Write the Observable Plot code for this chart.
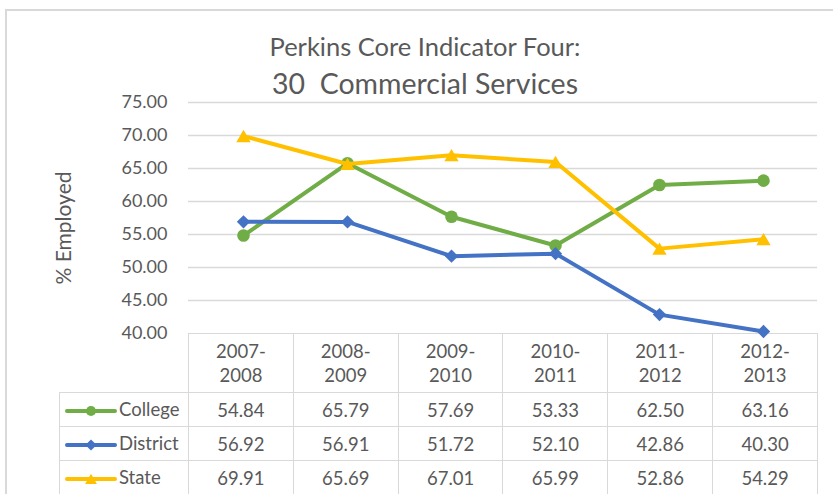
<!DOCTYPE html>
<html><head><meta charset="utf-8">
<script src="https://cdn.jsdelivr.net/npm/d3@7"></script>
<script src="https://cdn.jsdelivr.net/npm/@observablehq/plot@0.6"></script>
<style>
html,body{margin:0;padding:0;background:#fff;}
#wrap{position:relative;width:833px;height:494px;overflow:hidden;font-family:Lato,sans-serif;color:#595959;background:#fff;}
#frame{position:absolute;left:5px;top:9px;width:900px;height:600px;border:2px solid #d9d9d9;box-sizing:border-box;}
.title{position:absolute;left:0;width:850px;text-align:center;white-space:pre;line-height:1;}
#t1{font-size:25.5px;top:34px;}
#t2{font-size:28.5px;top:69px;}
#ylab{position:absolute;left:-37px;top:216px;width:200px;text-align:center;font-size:21px;line-height:24px;transform:rotate(-90deg);transform-origin:100px 12px;}
#tbl{position:absolute;left:59px;top:333px;border-collapse:collapse;table-layout:fixed;font-size:18.5px;}
#tbl td{border:1.5px solid #d9d9d9;padding:0;text-align:center;vertical-align:middle;box-sizing:border-box;}
#tbl td.blank{border:none;}
#tbl tr.head td{height:59px;line-height:24px;}
#tbl tr.body td{height:34px;}
#tbl td.leg{text-align:left;white-space:nowrap;}
#tbl td.leg svg{vertical-align:middle;margin-left:5px;margin-right:2px;}
#plot{position:absolute;left:0;top:0;pointer-events:none;}
</style>
</head><body>
<div id="wrap">
  <div id="frame"></div>
  <div class="title" id="t1">Perkins Core Indicator Four:</div>
  <div class="title" id="t2">30  Commercial Services</div>
  <div id="ylab">% Employed</div>
  <table id="tbl"></table>
  <div id="plot"></div>
</div>
<script>
const years = ["2007-2008","2008-2009","2009-2010","2010-2011","2011-2012","2012-2013"];
const series = ["College","District","State"];
const college = [54.84,65.79,57.69,53.33,62.50,63.16];
const district = [56.92,56.91,51.72,52.10,42.86,40.30];
const state = [69.91,65.69,67.01,65.99,52.86,54.29];
const yTicks = [40,45,50,55,60,65,70,75];

const colors = ["#70AD47","#4472C4","#FFC000"];
const symbols = ["circle","diamond2","triangle"];
const radii = [6.3,6.0,5.3];
const dys = [0,0,2];
const values = [college, district, state];

const rows = series.flatMap((s,i) => years.map((y,j) => ({series:s, year:y, value:values[i][j]})));

const plot = Plot.plot({
  width:833, height:345,
  marginLeft:188, marginRight:16, marginTop:102, marginBottom:12,
  x:{type:"point", domain:years, padding:0.5, axis:null},
  y:{domain:[40,75], axis:null},
  style:{fontFamily:"Lato, sans-serif", fontSize:"18px", color:"#595959", background:"transparent", overflow:"visible"},
  marks:[
    Plot.ruleY(yTicks.filter(v => v > 40), {stroke:"#d9d9d9", strokeWidth:1.5, strokeOpacity:1}),
    Plot.axisY({ticks:yTicks, tickSize:0, tickPadding:21, tickFormat:d3.format(".2f"), label:null, fontSize:18}),
    ...series.flatMap((s,i) => {
      const d = rows.filter(r => r.series === s);
      return [
        Plot.line(d, {x:"year", y:"value", stroke:colors[i], strokeWidth:4, strokeLinejoin:"round", strokeLinecap:"round"}),
        Plot.dot(d, {x:"year", y:"value", symbol:symbols[i], r:radii[i], fill:colors[i], stroke:"none", dy:dys[i]})
      ];
    })
  ]
});
document.getElementById("plot").appendChild(plot);

// data table (legend + values)
const tbl = d3.select("#tbl");
const cg = tbl.append("colgroup");
cg.append("col").style("width","129px");
years.forEach(() => cg.append("col").style("width", (629/6)+"px"));
const head = tbl.append("tr").attr("class","head");
head.append("td").attr("class","blank");
years.forEach(y => {
  const [a,b] = y.split("-");
  head.append("td").html(a + "-<br>" + b);
});
const symGen = {circle:d3.symbolCircle, diamond2:d3.symbolDiamond2, triangle:d3.symbolTriangle};
const legSizes = [80, 80, 60];
series.forEach((s,i) => {
  const tr = tbl.append("tr").attr("class","body");
  const td = tr.append("td").attr("class","leg");
  const svg = td.append("svg").attr("width",52).attr("height",20);
  svg.append("line").attr("x1",2).attr("x2",50).attr("y1",10).attr("y2",10)
    .attr("stroke",colors[i]).attr("stroke-width",4).attr("stroke-linecap","round");
  svg.append("path").attr("transform",`translate(26,${10 + (i===2?1.5:0)})`)
    .attr("d", d3.symbol(symGen[symbols[i]], legSizes[i])()).attr("fill",colors[i]);
  td.append("span").text(s);
  values[i].forEach(v => tr.append("td").text(d3.format(".2f")(v)));
});
</script>
</body></html>
